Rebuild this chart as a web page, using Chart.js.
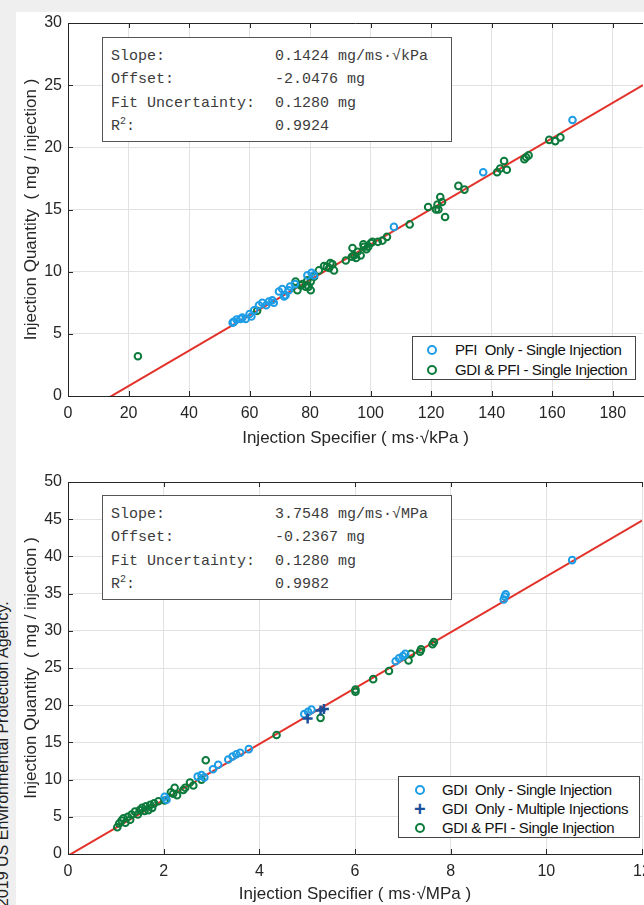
<!DOCTYPE html>
<html>
<head>
<meta charset="utf-8">
<script src="https://cdn.jsdelivr.net/npm/chart.js@4.4.1/dist/chart.umd.min.js"></script>
<style>
    html, body { margin: 0; padding: 0; }
    body {
        width: 644px; height: 905px; overflow: hidden; position: relative;
        background: #efefef; font-family: "Liberation Sans", Arial, sans-serif;
    }
    #panel { position: absolute; left: 16px; top: 12px; width: 700px; height: 1000px; background: #fff; }
    .plot { position: absolute; left: 0; }
    #wrapTop { top: 0; }
    #wrapBottom { top: 460px; }
    .fitbox {
        position: absolute; left: 102px; width: 350px; height: 105px; box-sizing: border-box;
        border: 1px solid #555; background: #fff;
        font-family: "Liberation Mono", "DejaVu Sans Mono", monospace; font-size: 15px; color: #3c3c3c;
    }
    .fitbox .row { position: absolute; left: 8px; height: 20px; line-height: 20px; white-space: nowrap; }
    .fitbox .val { position: absolute; left: 164px; top: 0; }
    .fitbox sup { font-size: 10px; vertical-align: 6px; line-height: 0; }
    .legend {
        position: absolute; box-sizing: border-box; border: 1px solid #444; background: #fff;
        font-size: 15px; letter-spacing: -0.4px; color: #111;
    }
    .legend .item { position: absolute; height: 20px; line-height: 20px; white-space: nowrap; }
    .legend .mk { position: absolute; top: 5px; width: 6px; height: 6px; border: 2px solid; border-radius: 50%; }
    .legend .plus { position: absolute; top: 0; font-weight: bold; font-size: 20px; line-height: 20px; }
    .legend .txt { position: absolute; }
    #credit {
        position: absolute; left: -6px; top: 907px; transform: rotate(-90deg); transform-origin: left top;
        white-space: nowrap; font-size: 16px; line-height: 18px; color: #222;
    }
</style>
</head>
<body>
<div id="panel"></div>
<div id="credit">2019 US Environmental Protection Agency.</div>

<div class="plot" id="wrapTop"><canvas id="chartTop" width="690" height="460"></canvas></div>
<div class="plot" id="wrapBottom"><canvas id="chartBottom" width="690" height="447"></canvas></div>

<div class="fitbox" style="top:37px">
    <div class="row" style="top:9px">Slope:<span class="val">0.1424 mg/ms·√kPa</span></div>
    <div class="row" style="top:32px">Offset:<span class="val">-2.0476 mg</span></div>
    <div class="row" style="top:56px">Fit Uncertainty:<span class="val">0.1280 mg</span></div>
    <div class="row" style="top:79px">R<sup>2</sup>:<span class="val">0.9924</span></div>
</div>
<div class="fitbox" style="top:495px">
    <div class="row" style="top:9px">Slope:<span class="val">3.7548 mg/ms·√MPa</span></div>
    <div class="row" style="top:32px">Offset:<span class="val">-0.2367 mg</span></div>
    <div class="row" style="top:56px">Fit Uncertainty:<span class="val">0.1280 mg</span></div>
    <div class="row" style="top:79px">R<sup>2</sup>:<span class="val">0.9982</span></div>
</div>

<div class="legend" style="left:412px; top:336px; width:224px; height:44px;">
    <div class="item" style="top:3px; left:0; width:220px;"><span class="mk" style="left:14px; border-color:#1d9de6"></span><span class="txt" style="left:42px">PFI&nbsp; Only - Single Injection</span></div>
    <div class="item" style="top:23px; left:0; width:220px;"><span class="mk" style="left:14px; border-color:#0b7a3b"></span><span class="txt" style="left:42px">GDI &amp; PFI - Single Injection</span></div>
</div>
<div class="legend" style="left:398px; top:776px; width:242px; height:62px;">
    <div class="item" style="top:3px; left:0;"><span class="mk" style="left:16px; border-color:#1d9de6"></span><span class="txt" style="left:43px">GDI&nbsp; Only - Single Injection</span></div>
    <div class="item" style="top:22px; left:0;"><span class="plus" style="left:15px; color:#1b4f9a">+</span><span class="txt" style="left:43px">GDI&nbsp; Only - Multiple Injections</span></div>
    <div class="item" style="top:41px; left:0;"><span class="mk" style="left:16px; border-color:#0b7a3b"></span><span class="txt" style="left:43px">GDI &amp; PFI - Single Injection</span></div>
</div>

<script>
// ---- top panel: kPa specifier ----
const topXMax = 190;
const topXTicks = [0, 20, 40, 60, 80, 100, 120, 140, 160, 180];
const topYMax = 30, topYStep = 5;
const topSlope = 0.1424, topOffset = -2.0476;

const pfiOnlyX = [54.4, 54.8, 55.7, 57.0, 57.6, 58.7, 60.0, 60.6, 61.5, 63.1, 64.2, 65.5, 66.4, 67.5, 68.0, 69.7, 70.8, 71.4, 71.9, 73.0, 73.4, 75.0, 79.1, 80.5, 81.3, 107.7, 137.2, 166.7];
const pfiOnlyY = [5.9, 5.96, 6.15, 6.2, 6.3, 6.2, 6.6, 6.4, 6.9, 7.3, 7.5, 7.3, 7.6, 7.7, 7.5, 8.4, 8.6, 8.0, 8.1, 8.5, 8.8, 9.0, 9.7, 9.9, 9.7, 13.6, 18.0, 22.2];

const gdiPfiX = [23.1, 62.5, 75.2, 75.8, 76.9, 77.5, 78.5, 79.1, 79.5, 80.2, 80.2, 81.3, 82.9, 84.6, 85.5, 86.3, 86.7, 87.4, 87.9,
    91.8, 93.8, 94.0, 94.5, 95.2, 95.7, 96.7, 97.6, 97.8, 98.6, 99.2, 100.1, 100.6, 102.4, 103.9, 105.4,
    112.9, 119.0, 121.6, 122.1, 122.4, 123.0, 123.6, 124.6, 129.0, 131.0,
    141.8, 142.8, 144.1, 145.0, 150.8, 151.4, 152.2, 159.0, 161.0, 162.7];
const gdiPfiY = [3.2, 6.85, 9.2, 8.5, 8.9, 9.0, 8.8, 9.3, 8.8, 8.5, 9.2, 9.6, 10.1, 10.45, 10.4, 10.3, 10.7, 10.6, 10.1,
    10.9, 11.2, 11.9, 11.3, 11.1, 11.6, 11.3, 12.2, 12.0, 11.8, 12.0, 12.3, 12.4, 12.4, 12.5, 12.8,
    13.8, 15.2, 15.0, 15.4, 15.0, 16.0, 15.6, 14.4, 16.9, 16.6,
    18.0, 18.3, 18.9, 18.2, 19.05, 19.2, 19.35, 20.6, 20.5, 20.8];

// ---- bottom panel: MPa specifier ----
const botXMax = 12;
const botXTicks = [0, 2, 4, 6, 8, 10, 12];
const botYMax = 50, botYStep = 5;
const botSlope = 3.7548, botOffset = -0.2367;

const gdiOnlyX = [2.02, 2.06, 2.71, 2.79, 2.85, 3.03, 3.14, 3.35, 3.44, 3.52, 3.60, 3.78, 4.94, 5.02, 5.09, 6.85, 6.92, 7.00, 7.05, 9.11, 9.13, 9.15, 10.54];
const gdiOnlyY = [7.7, 7.3, 10.4, 10.6, 10.3, 11.4, 12.0, 12.7, 13.1, 13.4, 13.6, 14.1, 18.8, 19.1, 19.4, 25.9, 26.3, 26.6, 26.9, 34.2, 34.6, 34.9, 39.5];

const gdiMultiX = [5.01, 5.28, 5.35];
const gdiMultiY = [18.2, 19.3, 19.5];

const gdiPfi2X = [1.03, 1.07, 1.12, 1.16, 1.20, 1.25, 1.30, 1.33, 1.40, 1.46, 1.50, 1.55, 1.60, 1.63, 1.68, 1.72, 1.76, 1.80, 1.89,
    2.02, 2.15, 2.20, 2.23, 2.28, 2.41, 2.45, 2.55, 2.62, 2.79, 2.88, 4.36, 5.28, 6.01, 6.01, 6.38, 6.71, 7.12, 7.17, 7.36, 7.38, 7.62, 7.65];
const gdiPfi2Y = [3.6, 4.1, 4.5, 4.8, 4.2, 5.0, 4.6, 5.3, 5.7, 5.3, 5.9, 6.2, 5.8, 6.4, 5.9, 6.6, 6.2, 6.8, 7.1,
    7.2, 8.3, 8.1, 8.9, 7.9, 8.6, 8.9, 9.6, 9.2, 10.0, 12.6, 16.0, 18.3, 21.8, 22.1, 23.5, 24.6, 26.0, 26.9, 27.2, 27.5, 28.2, 28.5];

const colBlue = '#1d9de6';
const colGreen = '#0b7a3b';
const colNavy = '#1b4f9a';
const colRed = '#e3322a';
const colAxis = '#262626';

Chart.defaults.font.family = '"Liberation Sans", Arial, sans-serif';

function toPoints(xs, ys) {
    return xs.map((x, i) => ({ x: x, y: ys[i] }));
}

function fitLine(slope, offset, xMax) {
    return [{ x: 0, y: offset }, { x: xMax, y: slope * xMax + offset }];
}

function circleSet(xs, ys, color) {
    return {
        data: toPoints(xs, ys),
        pointStyle: 'circle',
        pointRadius: 3.3,
        borderWidth: 2,
        borderColor: color,
        backgroundColor: 'rgba(0,0,0,0)',
        order: 1
    };
}

// inward tick marks and top frame line, like the original figure
const frameTicks = {
    id: 'frameTicks',
    afterDraw(chart) {
        const { ctx, chartArea: a, scales } = chart;
        ctx.save();
        ctx.strokeStyle = colAxis;
        ctx.lineWidth = 1;
        ctx.beginPath();
        ctx.moveTo(a.left, a.top + 0.5);
        ctx.lineTo(a.right, a.top + 0.5);
        scales.x.ticks.forEach(t => {
            const px = Math.round(scales.x.getPixelForValue(t.value)) + 0.5;
            ctx.moveTo(px, a.bottom);
            ctx.lineTo(px, a.bottom - 5);
            ctx.moveTo(px, a.top);
            ctx.lineTo(px, a.top + 5);
        });
        scales.y.ticks.forEach(t => {
            const py = Math.round(scales.y.getPixelForValue(t.value)) + 0.5;
            ctx.moveTo(a.left, py);
            ctx.lineTo(a.left + 5, py);
        });
        ctx.stroke();
        ctx.restore();
    }
};

function buildChart(id, cfg) {
    const ctx = document.getElementById(id);
    return new Chart(ctx, {
        type: 'scatter',
        data: { datasets: cfg.datasets },
        plugins: [frameTicks],
        options: {
            responsive: false,
            animation: false,
            layout: { padding: { top: cfg.padTop, right: cfg.padRight, left: 0, bottom: 0 } },
            plugins: {
                legend: { display: false },
                tooltip: { enabled: false }
            },
            scales: {
                x: {
                    type: 'linear',
                    min: 0,
                    max: cfg.xMax,
                    grid: { color: '#e2e2e2', drawTicks: false },
                    border: { color: colAxis, width: 1 },
                    ticks: {
                        autoSkip: false,
                        maxRotation: 0,
                        padding: 8,
                        color: colAxis,
                        font: { size: 16 }
                    },
                    afterBuildTicks: function (scale) {
                        scale.ticks = cfg.xTicks.map(v => ({ value: v }));
                    },
                    title: {
                        display: true,
                        text: cfg.xTitle,
                        color: colAxis,
                        font: { size: 17 },
                        padding: { top: 0, bottom: cfg.xTitlePad }
                    },
                    afterFit: function (scale) { scale.height = cfg.xAxisH; }
                },
                y: {
                    min: 0,
                    max: cfg.yMax,
                    grid: { color: '#e2e2e2', drawTicks: false },
                    border: { color: colAxis, width: 1 },
                    ticks: {
                        stepSize: cfg.yStep,
                        padding: 6,
                        color: colAxis,
                        font: { size: 16 }
                    },
                    title: {
                        display: true,
                        text: cfg.yTitle,
                        color: colAxis,
                        font: { size: 17 },
                        padding: { top: 21, bottom: 0 }
                    },
                    afterFit: function (scale) { scale.width = 68; }
                }
            }
        }
    });
}

buildChart('chartTop', {
    xMax: topXMax, xTicks: topXTicks, yMax: topYMax, yStep: topYStep,
    padTop: 23, padRight: 47, xAxisH: 64, xTitlePad: 11,
    xTitle: 'Injection Specifier ( ms·√kPa )',
    yTitle: 'Injection Quantity  ( mg / injection )',
    datasets: [
        circleSet(pfiOnlyX, pfiOnlyY, colBlue),
        circleSet(gdiPfiX, gdiPfiY, colGreen),
        {
            type: 'line',
            data: fitLine(topSlope, topOffset, topXMax),
            borderColor: colRed,
            borderWidth: 2,
            pointRadius: 0,
            fill: false,
            order: 5
        }
    ]
});

buildChart('chartBottom', {
    xMax: botXMax, xTicks: botXTicks, yMax: botYMax, yStep: botYStep,
    padTop: 22, padRight: 48, xAxisH: 53, xTitlePad: 2,
    xTitle: 'Injection Specifier ( ms·√MPa )',
    yTitle: 'Injection Quantity  ( mg / injection )',
    datasets: [
        circleSet(gdiOnlyX, gdiOnlyY, colBlue),
        {
            data: toPoints(gdiMultiX, gdiMultiY),
            pointStyle: 'cross',
            pointRadius: 5,
            borderWidth: 2.5,
            borderColor: colNavy,
            order: 0
        },
        circleSet(gdiPfi2X, gdiPfi2Y, colGreen),
        {
            type: 'line',
            data: fitLine(botSlope, botOffset, botXMax),
            borderColor: colRed,
            borderWidth: 2,
            pointRadius: 0,
            fill: false,
            order: 5
        }
    ]
});
</script>
</body>
</html>
